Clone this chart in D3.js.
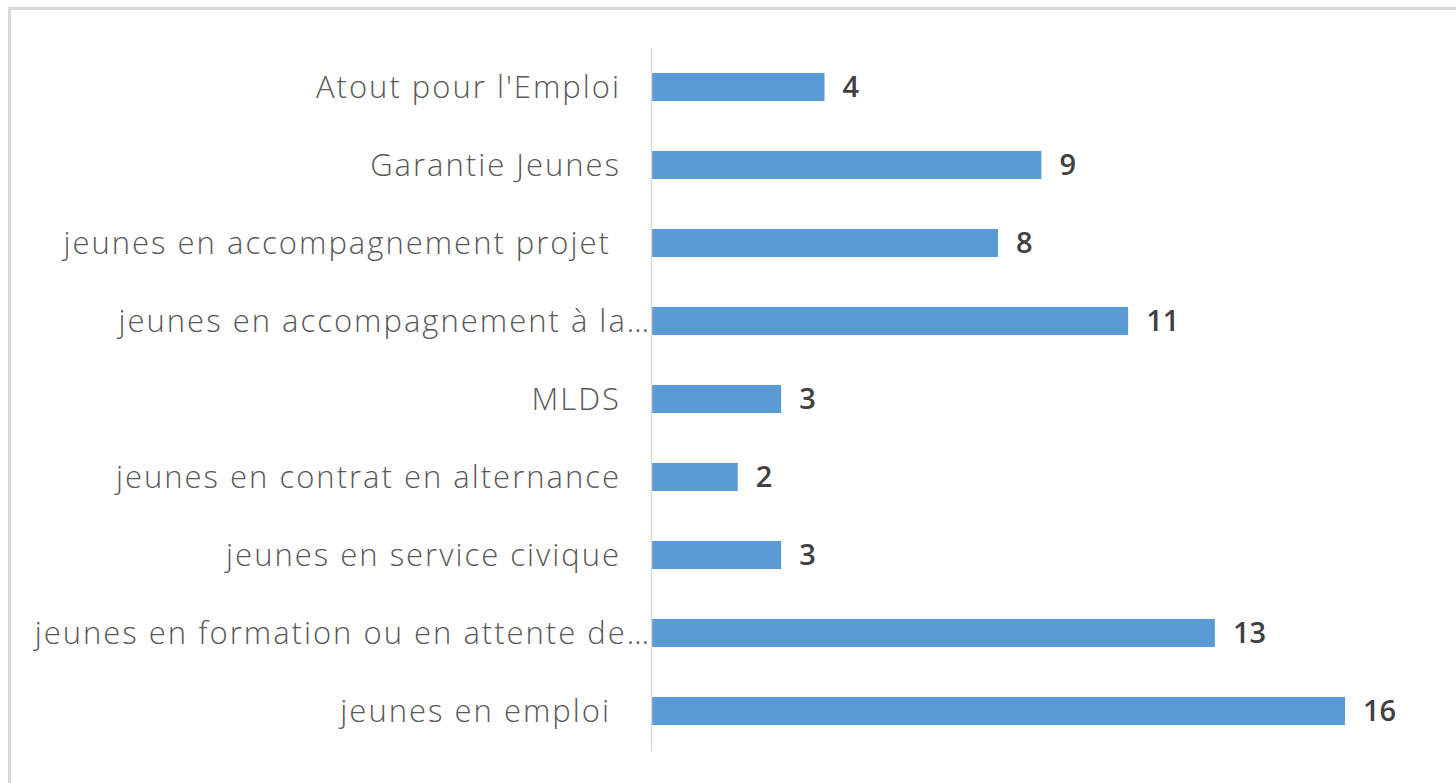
<!DOCTYPE html>
<html><head><meta charset="utf-8">
<script src="https://cdn.jsdelivr.net/npm/d3@7"></script>
<style>
html,body{margin:0;padding:0;background:#fff;}
svg{display:block;}
.cat{font-family:"Open Sans","Lato",sans-serif;font-weight:300;fill:#595959;white-space:pre;letter-spacing:2px;}
.val{font-family:"Open Sans","Liberation Sans",sans-serif;font-weight:600;fill:#404040;}
</style></head>
<body>
<svg id="chart" width="1456" height="783"></svg>
<script>
const categories = [
  "Atout pour l'Emploi",
  "Garantie Jeunes",
  "jeunes en accompagnement projet ",
  "jeunes en accompagnement à la…",
  "MLDS",
  "jeunes en contrat en alternance",
  "jeunes en service civique",
  "jeunes en formation ou en attente de…",
  "jeunes en emploi "
];
const values = [4, 9, 8, 11, 3, 2, 3, 13, 16];

const svg = d3.select("#chart");
// chart area border
svg.append("rect").attr("x", 9.5).attr("y", 8.5).attr("width", 1460).attr("height", 800)
  .attr("fill", "none").attr("stroke", "#d9d9d9").attr("stroke-width", 3);

const x0 = 651;
const x = d3.scaleLinear().domain([0, 16]).range([x0, 1345]);
const y = d3.scaleBand().domain(categories).range([48, 750]).paddingInner(0.64).paddingOuter(0.32);

svg.selectAll("rect.bar").data(values).join("rect").attr("class", "bar")
  .attr("x", x(0)).attr("y", (d, i) => y(categories[i]))
  .attr("width", d => x(d) - x(0)).attr("height", y.bandwidth())
  .attr("fill", "#5b9bd5");

svg.append("line").attr("x1", x0 + 0.5).attr("x2", x0 + 0.5).attr("y1", 48).attr("y2", 751)
  .attr("stroke", "#d9d9d9").attr("stroke-width", 1.5);

svg.selectAll("text.cat").data(categories).join("text").attr("class", "cat")
  .attr("x", d => d.endsWith("…") ? 651 : 621)
  .attr("y", d => y(d) + y.bandwidth() / 2)
  .attr("dy", "0.36em").attr("text-anchor", "end")
  .style("font-size", "31px")
  .text(d => d);

svg.selectAll("text.val").data(values).join("text").attr("class", "val")
  .attr("x", d => x(d) + 18)
  .attr("y", (d, i) => y(categories[i]) + y.bandwidth() / 2)
  .attr("dy", "0.36em")
  .style("font-size", "29px")
  .text(d => d);
</script>
</body></html>
